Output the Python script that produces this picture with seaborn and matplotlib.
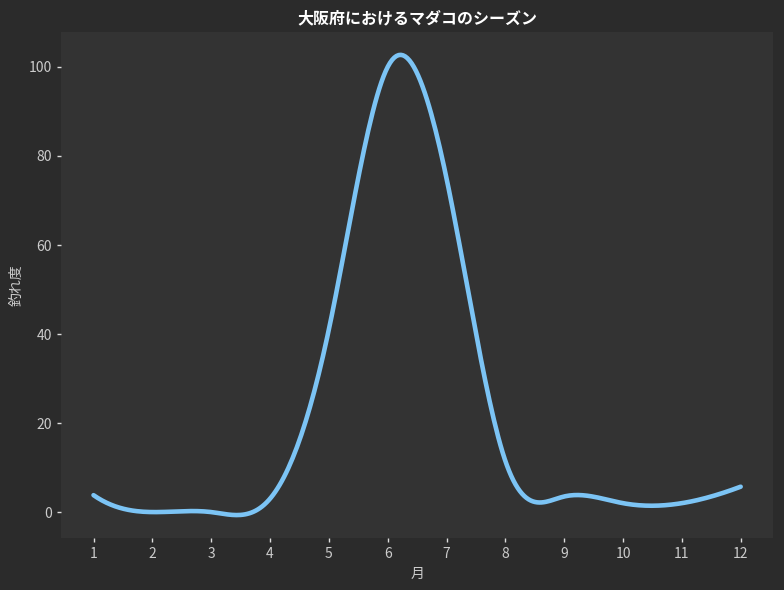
import numpy as np
import pandas as pd
import matplotlib
matplotlib.use("Agg")
import matplotlib.pyplot as plt
import seaborn as sns

months = [1, 2, 3, 4, 5, 6, 7, 8, 9, 10, 11, 12]
catch_level = [3.8, 0, 0, 3, 41, 100, 75, 11.5, 3.5, 2, 2, 5.7]
title = "大阪府におけるマダコのシーズン"
xlabel = "月"
ylabel = "釣れ度"


def not_a_knot_spline(x, y, num=300):
    x = np.asarray(x, float)
    y = np.asarray(y, float)
    n = len(x)
    h = np.diff(x)
    A = np.zeros((n, n))
    b = np.zeros(n)
    for i in range(1, n - 1):
        A[i, i - 1] = h[i - 1]
        A[i, i] = 2 * (h[i - 1] + h[i])
        A[i, i + 1] = h[i]
        b[i] = 6 * ((y[i + 1] - y[i]) / h[i] - (y[i] - y[i - 1]) / h[i - 1])
    A[0, 0], A[0, 1], A[0, 2] = h[1], -(h[0] + h[1]), h[0]
    A[-1, -3], A[-1, -2], A[-1, -1] = h[-1], -(h[-2] + h[-1]), h[-2]
    M = np.linalg.solve(A, b)
    xs = np.linspace(x[0], x[-1], num)
    idx = np.clip(np.searchsorted(x, xs) - 1, 0, n - 2)
    hi = h[idx]
    a = (x[idx + 1] - xs)
    c = (xs - x[idx])
    ys = (M[idx] * a ** 3 / (6 * hi) + M[idx + 1] * c ** 3 / (6 * hi)
          + (y[idx] / hi - M[idx] * hi / 6) * a
          + (y[idx + 1] / hi - M[idx + 1] * hi / 6) * c)
    return xs, ys


xs, ys = not_a_knot_spline(months, catch_level)
df = pd.DataFrame({"month": xs, "level": ys})

sns.set_theme(style="dark")
plt.rcParams["font.family"] = ["Noto Sans CJK JP", "DejaVu Sans"]

fig = plt.figure(figsize=(7.84, 5.90), dpi=100, facecolor="#2b2b2b")
ax = fig.add_axes([0.078, 0.088, 0.908, 0.858])
ax.set_facecolor("#333333")

sns.lineplot(data=df, x="month", y="level", ax=ax, color="#7cc4f5", linewidth=3.3)

ax.set_xticks(months)
ax.set_yticks([0, 20, 40, 60, 80, 100])
for s in ax.spines.values():
    s.set_visible(False)
ax.grid(False)
ax.tick_params(axis="both", colors="#dddddd", labelcolor="#cccccc", labelsize=10,
               length=3, width=1, direction="out", bottom=True, left=True)
ax.set_title(title, color="white", fontsize=11.5, fontweight="bold", pad=6)
ax.set_xlabel(xlabel, color="#cccccc", fontsize=10)
ax.set_ylabel(ylabel, color="#cccccc", fontsize=10)

fig.savefig("out.png", dpi=100, facecolor=fig.get_facecolor())
